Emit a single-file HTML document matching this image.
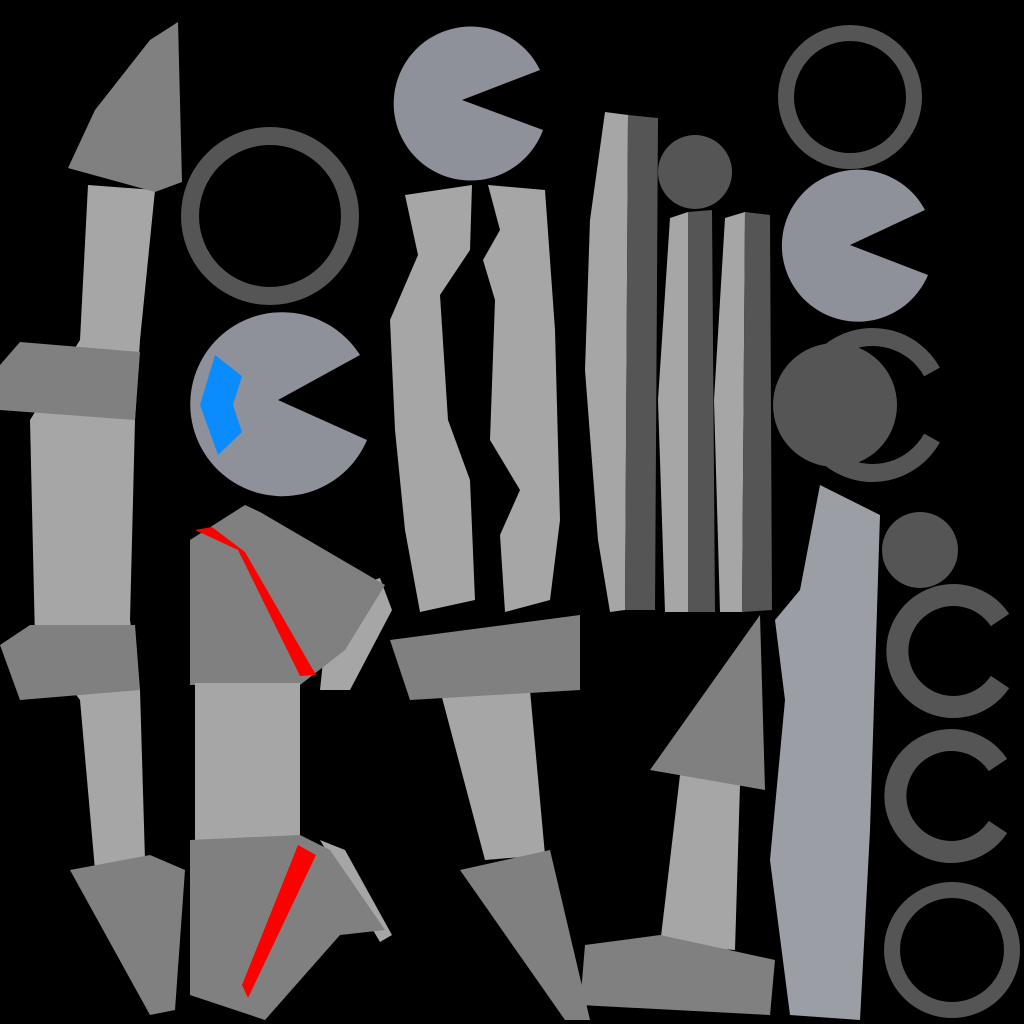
<!DOCTYPE html>
<html><head><meta charset="utf-8"><style>
html,body{margin:0;padding:0;background:#000;}
svg{display:block;}
</style></head><body>
<svg width="1024" height="1024" viewBox="0 0 1024 1024" xmlns="http://www.w3.org/2000/svg">
<rect width="1024" height="1024" fill="#000"/>
<g>
<polygon fill="#a6a6a6" points="88,185 155,190 140,340 135,420 130,620 140,690 145,860 95,870 80,700 35,640 30,420 80,340"/>
<polygon fill="#808080" points="150,40 178,22 182,182 155,192 68,168 95,110"/>
<polygon fill="#808080" points="0,365 20,342 140,352 135,420 0,410"/>
<polygon fill="#808080" points="0,645 30,625 135,625 140,690 20,700"/>
<polygon fill="#808080" points="70,870 150,855 185,870 175,1010 150,1015"/>
</g>
<circle cx="270" cy="216" r="80" fill="none" stroke="#555" stroke-width="18"/>
<g>
<path fill="#8f919a" d="M278,400 L367,440 A92,92 0 1 1 360,355 Z"/>
<polygon fill="#0a8cff" points="215,355 242,376 233,405 242,432 218,455 200,405"/>
</g>
<g>
<polygon fill="#a6a6a6" points="330,595 380,578 392,610 350,690 320,690"/>
<polygon fill="#808080" points="190,540 245,505 260,512 385,585 345,650 300,685 190,685"/>
<polygon fill="#ff0000" points="195,530 212,527 245,552 316,675 300,676 238,550"/>
<polygon fill="#a6a6a6" points="195,683 300,683 300,845 195,840"/>
<polygon fill="#a6a6a6" points="320,840 345,850 392,935 380,942"/>
<polygon fill="#808080" points="190,840 300,835 330,850 385,930 340,935 265,1020 190,995"/>
<polygon fill="#ff0000" points="298,845 316,855 248,998 242,985"/>
</g>
<path fill="#8f919a" d="M462,100 L543,130 A77,77 0 1 1 540,70 Z"/>
<g>
<polygon fill="#a6a6a6" points="405,195 472,185 470,250 440,295 448,420 470,480 475,600 420,612 405,530 395,430 390,320 418,255"/>
<polygon fill="#a6a6a6" points="488,185 545,190 555,330 560,520 550,600 505,612 500,535 520,490 490,440 495,300 483,260 500,230"/>
</g>
<g>
<polygon fill="#a6a6a6" points="440,690 530,690 545,855 485,860"/>
<polygon fill="#808080" points="390,640 580,615 580,690 410,700"/>
<polygon fill="#808080" points="460,870 550,850 590,1020 565,1020"/>
</g>
<g>
<polygon fill="#a6a6a6" points="605,112 628,115 625,610 610,612 598,540 585,370 590,220"/>
<polygon fill="#555" points="628,115 658,118 655,610 625,610"/>
<circle fill="#555" cx="695" cy="172" r="37"/>
<polygon fill="#a6a6a6" points="670,218 688,212 688,612 665,612 658,400"/>
<polygon fill="#555" points="688,212 712,210 715,612 688,612"/>
<polygon fill="#a6a6a6" points="725,218 745,212 742,612 720,612 714,400"/>
<polygon fill="#555" points="745,212 770,215 772,610 742,612"/>
</g>
<g>
<polygon fill="#a6a6a6" points="680,775 740,785 735,950 660,945"/>
<polygon fill="#808080" points="650,770 760,615 765,790"/>
<polygon fill="#808080" points="585,945 660,935 775,960 770,1015 580,1005"/>
</g>
<circle cx="850" cy="97" r="64" fill="none" stroke="#555" stroke-width="16"/>
<path fill="#8f919a" d="M850,245 L928,275 A76,76 0 1 1 925,210 Z"/>
<g>
<path fill="none" stroke="#555" stroke-width="18" d="M932,372 A68,68 0 1 0 932,438"/>
<circle fill="#555" cx="835" cy="405" r="62"/>
</g>
<polygon fill="#9c9ea6" points="820,485 880,515 870,830 860,1020 790,1015 770,860 785,700 775,620 800,590"/>
<circle fill="#555" cx="920" cy="550" r="38"/>
<path fill="none" stroke="#555" stroke-width="22" d="M1000,620 A56,56 0 1 0 1000,682"/>
<path fill="none" stroke="#555" stroke-width="22" d="M998,765 A56,56 0 1 0 998,827"/>
<circle cx="952" cy="950" r="60" fill="none" stroke="#555" stroke-width="16"/>
</svg>
</body></html>
